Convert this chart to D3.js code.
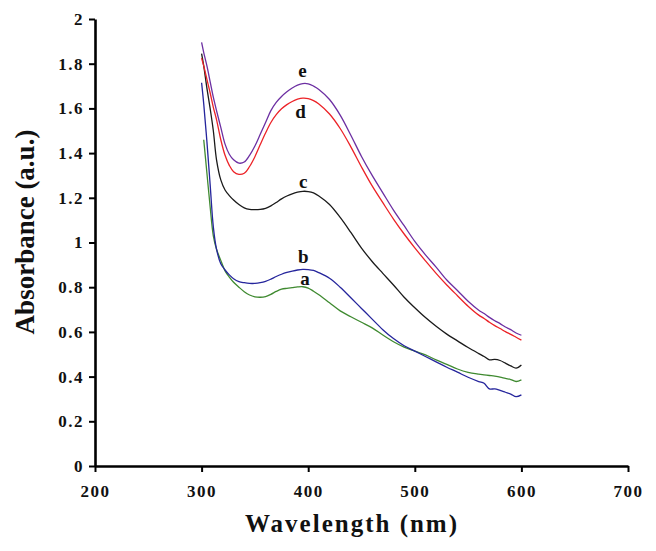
<!DOCTYPE html>
<html>
<head>
<meta charset="utf-8">
<script src="https://cdn.jsdelivr.net/npm/d3@7"></script>
<style>
  body { margin: 0; background: #fff; }
  text { font-family: "Liberation Serif", "Times New Roman", serif; font-weight: bold; }
</style>
</head>
<body>
<script>
// wavelengths (nm) shared by all spectra
var wavelengths = [300, 302, 305, 308, 311, 314, 318, 322, 326, 330, 335, 340, 345, 350, 355,
    360, 365, 370, 375, 380, 385, 390, 395, 400, 405, 410, 420, 430, 440, 450, 460, 470, 480,
    490, 500, 510, 520, 530, 540, 550, 560, 565, 570, 575, 580, 585, 590, 595, 600];

var seriesA = [null, 1.46, 1.31, 1.16, 1.03, 0.97, 0.92, 0.873, 0.845, 0.822, 0.80, 0.78, 0.765, 0.757, 0.755,
    0.758, 0.768, 0.781, 0.791, 0.795, 0.798, 0.801, 0.802, 0.796, 0.782, 0.766, 0.73, 0.694, 0.668, 0.643, 0.618, 0.586, 0.556,
    0.532, 0.514, 0.497, 0.475, 0.455, 0.434, 0.419, 0.411, 0.408, 0.405, 0.402, 0.398, 0.392, 0.387, 0.378, 0.385];

var seriesB = [1.715, 1.62, 1.45, 1.26, 1.07, 0.97, 0.905, 0.877, 0.855, 0.838, 0.825, 0.82, 0.817, 0.817, 0.82,
    0.826, 0.836, 0.848, 0.858, 0.866, 0.872, 0.877, 0.88, 0.879, 0.875, 0.865, 0.84, 0.80, 0.753, 0.705, 0.657, 0.61, 0.57,
    0.538, 0.514, 0.49, 0.466, 0.442, 0.42, 0.397, 0.378, 0.37, 0.345, 0.345, 0.338, 0.33, 0.322, 0.31, 0.318];

var seriesC = [1.845, 1.79, 1.69, 1.60, 1.50, 1.37, 1.28, 1.235, 1.21, 1.19, 1.17, 1.155, 1.148, 1.147, 1.148,
    1.153, 1.164, 1.179, 1.195, 1.208, 1.218, 1.225, 1.229, 1.228, 1.222, 1.208, 1.17, 1.112, 1.045, 0.975, 0.915, 0.862, 0.81,
    0.755, 0.708, 0.664, 0.625, 0.59, 0.56, 0.53, 0.503, 0.49, 0.475, 0.477, 0.472, 0.46, 0.448, 0.438, 0.452];

var seriesD = [1.825, 1.79, 1.73, 1.67, 1.605, 1.55, 1.46, 1.39, 1.345, 1.317, 1.305, 1.31, 1.34, 1.384, 1.438,
    1.49, 1.537, 1.572, 1.598, 1.617, 1.631, 1.641, 1.646, 1.644, 1.635, 1.62, 1.575, 1.51, 1.428, 1.338, 1.253, 1.178, 1.105,
    1.038, 0.976, 0.918, 0.862, 0.81, 0.762, 0.715, 0.675, 0.66, 0.643, 0.628, 0.615, 0.601, 0.589, 0.576, 0.563];

var seriesE = [1.895, 1.85, 1.79, 1.72, 1.65, 1.59, 1.515, 1.44, 1.395, 1.37, 1.355, 1.36, 1.39, 1.432, 1.484,
    1.537, 1.59, 1.627, 1.653, 1.674, 1.691, 1.704, 1.711, 1.71, 1.70, 1.685, 1.64, 1.57, 1.48, 1.385, 1.30, 1.222, 1.145,
    1.075, 1.005, 0.945, 0.89, 0.832, 0.785, 0.737, 0.697, 0.682, 0.665, 0.65, 0.637, 0.622, 0.61, 0.595, 0.585];

var seriesNames = ["a", "b", "c", "d", "e"];
var seriesColors = ["#3f8a30", "#25259c", "#1a1a1a", "#ec2227", "#6c2fa2"];
// label anchor points [wavelength, absorbance]
var labelPos = [[396.9, 0.81], [395.3, 0.908], [395.3, 1.244], [392.9, 1.556], [394.7, 1.74]];

var xTicks = [200, 300, 400, 500, 600, 700];
var yTicks = [0, 0.2, 0.4, 0.6, 0.8, 1, 1.2, 1.4, 1.6, 1.8, 2];

var width = 656, height = 551;

var svg = d3.select("body")
    .append("svg")
    .attr("width", width)
    .attr("height", height);

var xScale = d3.scaleLinear().domain([200, 700]).range([95, 628]),
    yScale = d3.scaleLinear().domain([0, 2]).range([466, 19]);

var allSeries = [seriesA, seriesB, seriesC, seriesD, seriesE];

function toPoints(values) {
    var arr = [];
    for (var i = 0; i < wavelengths.length; i++) {
        arr.push({x: wavelengths[i], y: values[i]});
    }
    return arr;
}

var line = d3.line()
    .defined(function(d) { return d.y != null; })
    .x(function(d) { return xScale(d.x); })
    .y(function(d) { return yScale(d.y); })
    .curve(d3.curveCatmullRom.alpha(0.5));

// Draw spectra
svg.selectAll(".spectrum")
    .data(allSeries)
    .enter().append("path")
    .attr("class", "spectrum")
    .attr("fill", "none")
    .attr("stroke", function(d, i) { return seriesColors[i]; })
    .attr("stroke-width", 1.3)
    .attr("d", function(d) { return line(toPoints(d)); });

// Curve letters
svg.selectAll(".lbl")
    .data(labelPos)
    .enter().append("text")
    .attr("class", "lbl")
    .attr("x", function(d) { return xScale(d[0]); })
    .attr("y", function(d) { return yScale(d[1]); })
    .attr("text-anchor", "middle")
    .attr("font-size", 19)
    .attr("fill", "#111")
    .text(function(d, i) { return seriesNames[i]; });

// Axes
var xAxis = svg.append("g")
    .attr("transform", "translate(0," + yScale(0) + ")")
    .call(d3.axisBottom(xScale).tickValues(xTicks).tickSize(6).tickSizeOuter(0).tickPadding(13));

var yAxis = svg.append("g")
    .attr("transform", "translate(" + xScale(200) + ",0)")
    .call(d3.axisLeft(yScale).tickValues(yTicks).tickSize(6).tickSizeOuter(0).tickPadding(5)
        .tickFormat(function(d) { return d; }));

[xAxis, yAxis].forEach(function(ax) {
    ax.select(".domain").attr("stroke", "#000").attr("stroke-width", 2.6);
    ax.selectAll(".tick line").attr("stroke", "#000").attr("stroke-width", 2);
    ax.selectAll(".tick text")
        .attr("fill", "#111")
        .attr("font-size", 17)
        .attr("letter-spacing", "1.5px")
        .style("font-family", "'Liberation Serif', 'Times New Roman', serif")
        .style("font-weight", "bold");
});

// Axis titles
svg.append("text")
    .attr("x", 352)
    .attr("y", 532)
    .attr("text-anchor", "middle")
    .attr("font-size", 25)
    .attr("letter-spacing", "2px")
    .attr("fill", "#111")
    .text("Wavelength (nm)");

svg.append("text")
    .attr("transform", "translate(34,232) rotate(-90)")
    .attr("text-anchor", "middle")
    .attr("font-size", 27)
    .attr("fill", "#111")
    .text("Absorbance (a.u.)");
</script>
</body>
</html>
